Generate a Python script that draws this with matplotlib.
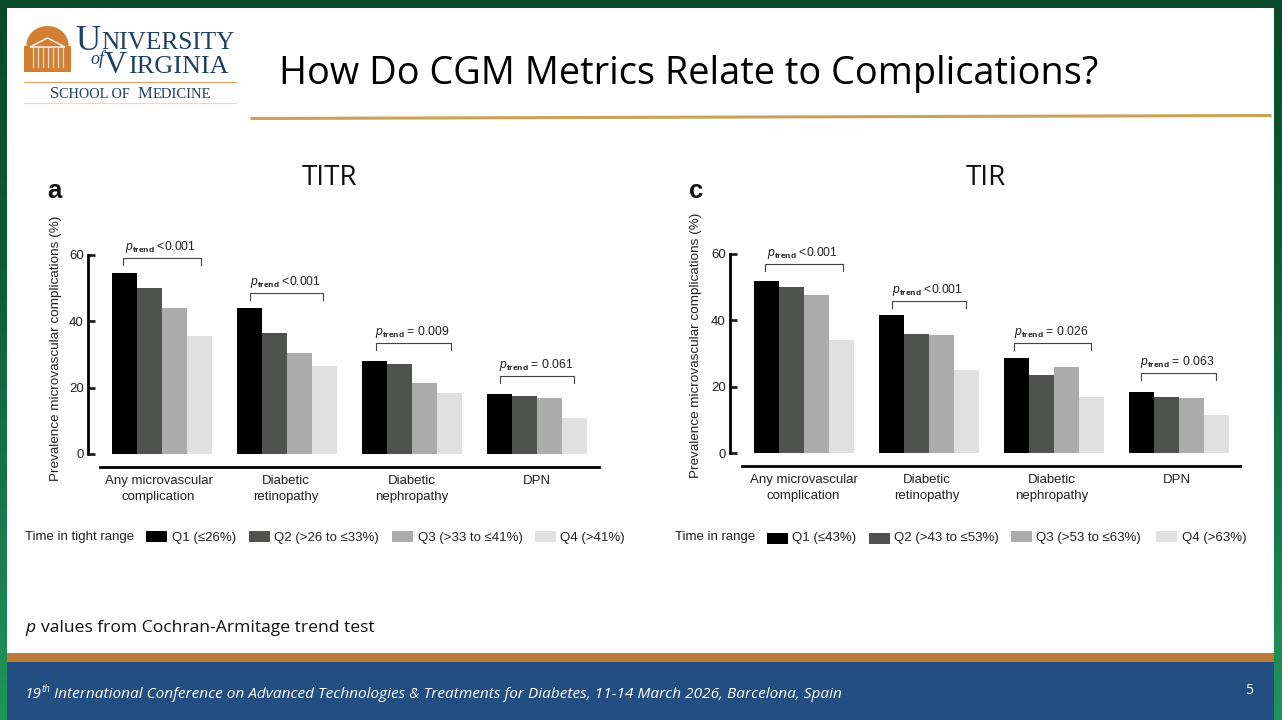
import numpy as np
import matplotlib
matplotlib.use('Agg')
import matplotlib.pyplot as plt
from matplotlib.patches import Rectangle, Ellipse, Polygon

plt.rcParams['font.family'] = 'Liberation Sans'
plt.rcParams['mathtext.fontset'] = 'custom'
plt.rcParams['mathtext.it'] = 'Liberation Sans:italic'
plt.rcParams['mathtext.bf'] = 'Liberation Sans:bold'
plt.rcParams['mathtext.rm'] = 'Liberation Sans'

# Data
categories = ['Any microvascular\ncomplication', 'Diabetic\nretinopathy',
              'Diabetic\nnephropathy', 'DPN']
titr_q1 = [54.5, 44.0, 28.0, 18.0]
titr_q2 = [50.0, 36.5, 27.0, 17.5]
titr_q3 = [44.0, 30.5, 21.5, 17.0]
titr_q4 = [35.5, 26.5, 18.5, 11.0]
tir_q1 = [52.0, 41.5, 28.5, 18.5]
tir_q2 = [50.0, 36.0, 23.5, 17.0]
tir_q3 = [47.5, 35.5, 26.0, 16.5]
tir_q4 = [34.0, 25.0, 17.0, 11.5]
titr_p = ['<0.001', '<0.001', '= 0.009', '= 0.061']
tir_p = ['<0.001', '<0.001', '= 0.026', '= 0.063']
titr_legend = ['Q1 (≤26%)', 'Q2 (>26 to ≤33%)', 'Q3 (>33 to ≤41%)', 'Q4 (>41%)']
tir_legend = ['Q1 (≤43%)', 'Q2 (>43 to ≤53%)', 'Q3 (>53 to ≤63%)', 'Q4 (>63%)']
yticks = [0, 20, 40, 60]

bar_colors = ['#000000', '#505250', '#ababab', '#e0e0e0']
W, H = 1282, 720
PX_PER_UNIT = 199 / 60
GROUP_PX = 125

fig = plt.figure(figsize=(W / 100, H / 100), dpi=100, facecolor='white')

# Slide background, drawn in pixel coordinates
bg = fig.add_axes([0, 0, 1, 1], zorder=0)
grad = np.linspace(0, 1, 256).reshape(-1, 1)
cmap = matplotlib.colors.LinearSegmentedColormap.from_list('edge', ['#0a4a2a', '#0e5a34', '#16744a', '#1f9658'])
bg.imshow(grad, extent=[0, W, H, 0], aspect='auto', cmap=cmap, zorder=0)
bg.axis('off')
bg.add_patch(Rectangle((7, 8), 1267, 646, color='#fefefe', lw=0, zorder=1))
bg.add_patch(Rectangle((7, 653), 1267, 9, color='#b97a3a', lw=0, zorder=2))
bg.add_patch(Rectangle((7, 662), 1267, 58, color='#234e82', lw=0, zorder=2))
bg.set_xlim(0, W)
bg.set_ylim(H, 0)

# Title and rule
bg.text(279, 74, 'How Do CGM Metrics Relate to Complications?', family='Open Sans',
        fontsize=27.3, color='black', va='center', ha='left', zorder=3)
bg.plot([252, 1270], [118.5, 115.5], color='#c9a35a', lw=2.2, zorder=3)

# Logo
navy = '#1f4060'
tan = '#d9a066'
orange = '#d07f35'
bg.add_patch(Ellipse((47.5, 45), 42, 38, color=orange, lw=0, zorder=3))
bg.add_patch(Rectangle((24, 46), 47, 26, color=orange, lw=0, zorder=3))
bg.add_patch(Polygon([[30, 47], [47.5, 38], [65, 47]], closed=True, fc=orange, ec='white', lw=1, zorder=4))
for cx in [33, 38, 43, 48, 53, 58, 63]:
    bg.plot([cx, cx], [48, 67], color='#f6dfc6', lw=0.9, zorder=4)
bg.text(75, 50, 'U', family='Liberation Serif', fontsize=25, color=navy, va='baseline', zorder=3)
bg.text(101, 49, 'NIVERSITY', family='Liberation Serif', fontsize=18.2, color=navy, va='baseline', zorder=3)
bg.text(90, 64, 'of', family='Liberation Serif', style='italic', fontsize=13, color=navy, va='baseline', zorder=3)
bg.text(104, 73, 'V', family='Liberation Serif', fontsize=23, color=navy, va='baseline', zorder=3)
bg.text(128, 73, 'IRGINIA', family='Liberation Serif', fontsize=18.8, color=navy, va='baseline', zorder=3)
bg.text(50, 98, 'S', family='Liberation Serif', fontsize=12, color=navy, va='baseline', zorder=3)
bg.text(59, 98, 'CHOOL OF', family='Liberation Serif', fontsize=10.3, color=navy, va='baseline', zorder=3)
bg.text(138, 98, 'M', family='Liberation Serif', fontsize=12, color=navy, va='baseline', zorder=3)
bg.text(153, 98, 'EDICINE', family='Liberation Serif', fontsize=10.5, color=navy, va='baseline', zorder=3)
bg.plot([24, 236], [82, 82], color=tan, lw=0.8, zorder=3)
bg.plot([24, 236], [102.5, 102.5], color='#ecd9c0', lw=0.8, zorder=3)

# Footer
bg.text(25, 628, 'p', family='Open Sans', style='italic', fontsize=12.6, color='#111111', va='center', zorder=3)
bg.text(41, 628, 'values from Cochran-Armitage trend test', family='Open Sans', fontsize=12.6,
        color='#111111', va='center', zorder=3)
bg.text(25, 694, '19', family='Open Sans', style='italic', fontsize=11.1, color='white', va='center', zorder=3)
bg.text(42, 689, 'th', family='Open Sans', style='italic', fontsize=7, color='white', va='center', zorder=3)
bg.text(54, 694, 'International Conference on Advanced Technologies & Treatments for Diabetes, 11-14 March 2026, Barcelona, Spain',
        family='Open Sans', style='italic', fontsize=11.1, color='white', va='center', zorder=3)
bg.text(1249, 690, '5', family='Open Sans', fontsize=10, color='white', va='center', ha='center', zorder=3)


def draw_panel(series, pvals, spine_x, first_center, zero_y, line_y, line_x, bracket_px, label_px):
    # axes box in pixels: x from the y spine to the end of the x axis line
    right_x = line_x[1]
    top_y = 235
    ax = fig.add_axes([spine_x / W, 1 - line_y / H, (right_x - spine_x) / W, (line_y - top_y) / H],
                      facecolor='none', zorder=2)
    ax.set_xlim((spine_x - first_center) / GROUP_PX, (right_x - first_center) / GROUP_PX)
    ax.set_ylim((zero_y - line_y) / PX_PER_UNIT, (zero_y - top_y) / PX_PER_UNIT)

    xpos = np.arange(len(categories))
    for i, vals in enumerate(series):
        ax.bar(xpos + (i - 1.5) * 0.2, vals, width=0.195, color=bar_colors[i], linewidth=0)

    ax.spines['top'].set_visible(False)
    ax.spines['right'].set_visible(False)
    ax.spines['left'].set_linewidth(2)
    ax.spines['bottom'].set_linewidth(2)
    ax.spines['left'].set_bounds(0, 60)
    ax.spines['bottom'].set_bounds((line_x[0] - first_center) / GROUP_PX, (line_x[1] - first_center) / GROUP_PX)
    ax.set_yticks(yticks)
    ax.tick_params(axis='y', direction='in', length=5, width=2, pad=3, labelsize=9.5, colors='#222222')
    ax.tick_params(axis='x', length=0, pad=6, labelsize=9.5, colors='#222222')
    ax.set_xticks([(p - first_center) / GROUP_PX for p in label_px])
    ax.set_xticklabels(categories, linespacing=1.42)

    for x0, x1, top, p in zip(bracket_px[0], bracket_px[1], bracket_px[2], pvals):
        bx0 = (x0 - first_center) / GROUP_PX
        bx1 = (x1 - first_center) / GROUP_PX
        by = (zero_y - top) / PX_PER_UNIT
        drop = 7 / PX_PER_UNIT
        ax.plot([bx0, bx0, bx1, bx1], [by - drop, by, by, by - drop], color='#444444', lw=0.8, clip_on=False)
        ax.text((bx0 + bx1) / 2 - 0.01, by + 1.0, r'$\mathit{p}_{\mathbf{trend}}$ ' + p,
                ha='center', va='bottom', fontsize=8.7, color='#222222')
    return ax


draw_panel([titr_q1, titr_q2, titr_q3, titr_q4], titr_p, 88, 162, 454, 467, (100, 599),
           ([123, 250, 376, 500], [201, 323, 451, 574], [258, 293, 343, 376]), [158.5, 286, 411.5, 537])
draw_panel([tir_q1, tir_q2, tir_q3, tir_q4], tir_p, 730, 804, 453, 466, (742, 1240),
           ([765, 892, 1014, 1141], [843, 966, 1091, 1216], [264, 301, 343, 373]), [803.5, 926.5, 1052, 1177])

# Panel heads and y labels
for x, letter in [(47, 'a'), (689, 'c')]:
    bg.text(x, 191, letter, fontsize=18.5, fontweight='bold', color='#111111', va='center', zorder=3)
for x, name in [(330, 'TITR'), (986, 'TIR')]:
    bg.text(x, 178, name, family='Open Sans', fontsize=20, color='#111111', ha='center', va='center', zorder=3)
for x, y in [(56.5, 348), (696.5, 345)]:
    bg.text(x, y, 'Prevalence microvascular complications (%)', rotation=90, fontsize=9.7,
            color='#222222', ha='center', va='center', zorder=3)

# Legends
bg.text(25, 537, 'Time in tight range', fontsize=9.5, color='#222222', va='center', zorder=3)
bg.text(675, 537, 'Time in range', fontsize=9.5, color='#222222', va='center', zorder=3)
for labels, xs, ys in [(titr_legend, [146, 249, 392, 535], [531, 531, 531, 531]),
                       (tir_legend, [767, 869, 1011, 1156], [533, 533, 531, 531])]:
    for i, (lab, x, y) in enumerate(zip(labels, xs, ys)):
        bg.add_patch(Rectangle((x, y), 21, 11, color=bar_colors[i], lw=0, zorder=3))
        bg.text(x + 25.5, 538, lab, fontsize=9.5, color='#222222', va='center', zorder=3)

fig.savefig('out.png', dpi=100)
